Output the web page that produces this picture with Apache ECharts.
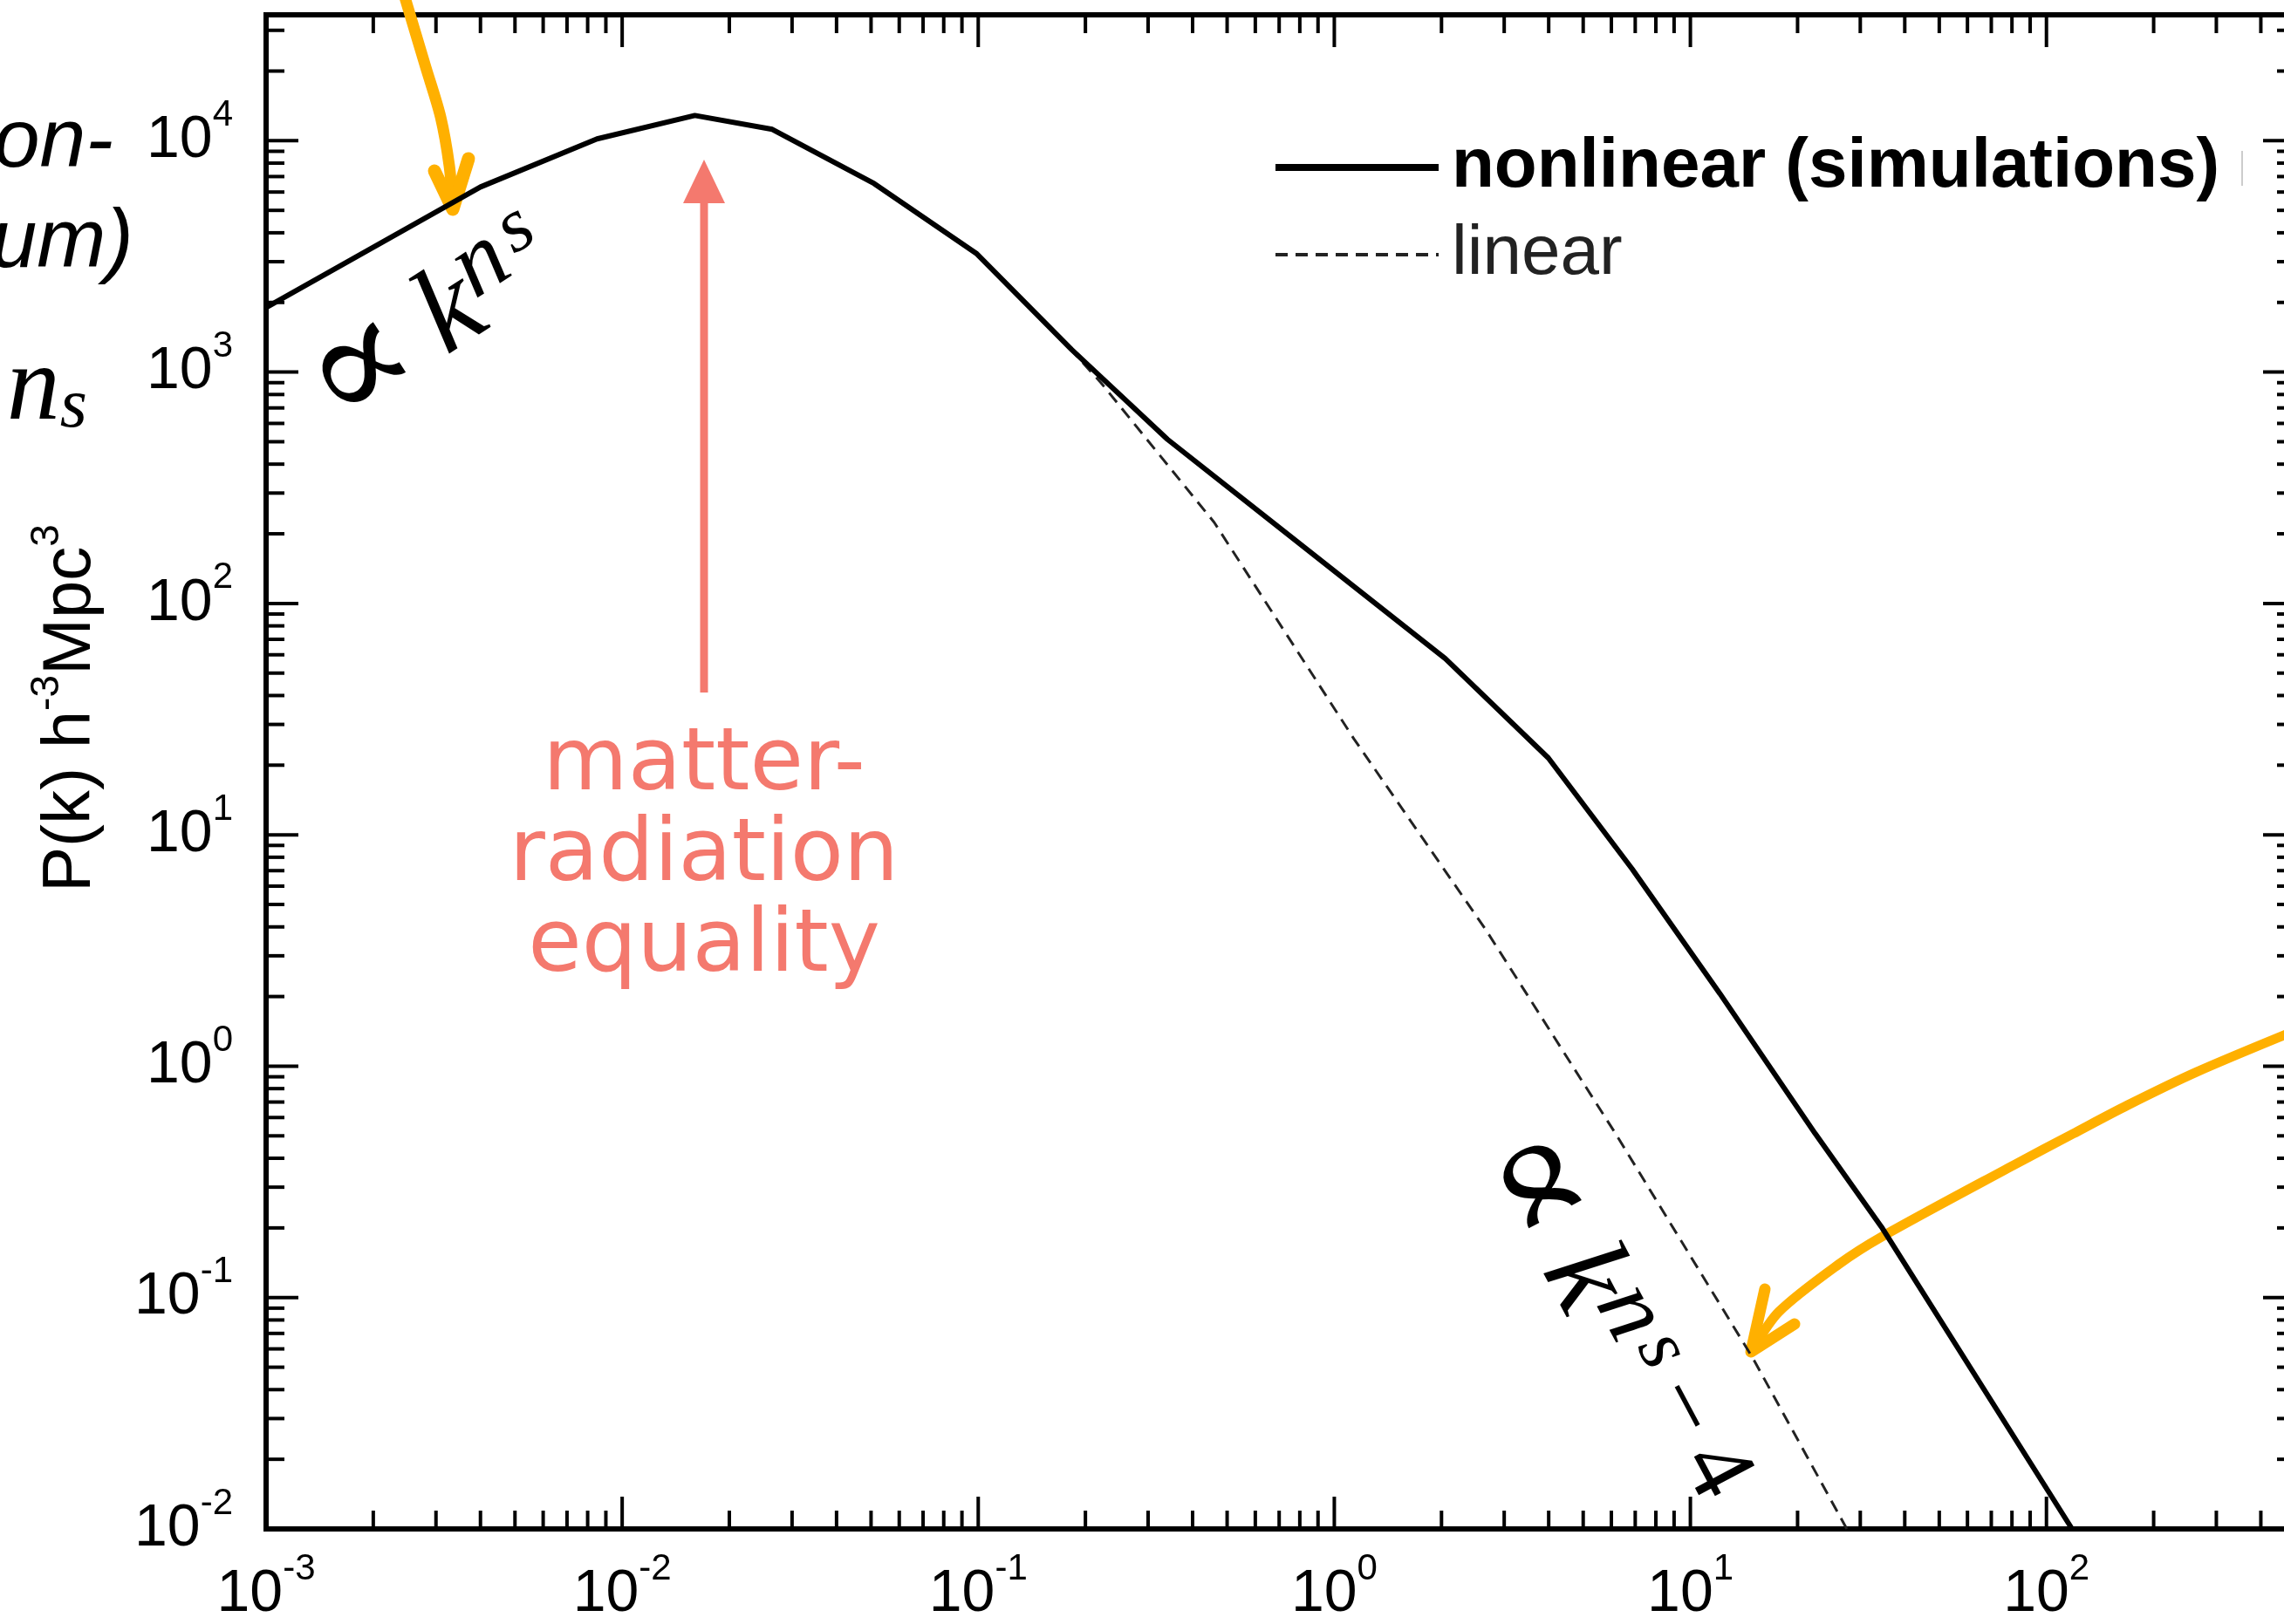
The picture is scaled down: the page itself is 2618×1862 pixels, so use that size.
<!DOCTYPE html>
<html>
<head>
<meta charset="utf-8">
<title>Matter power spectrum</title>
<script src="https://cdn.jsdelivr.net/npm/echarts@6/dist/echarts.min.js"></script>
<style>
  html, body { margin: 0; padding: 0; background: #fff; overflow: hidden; }
  #chart { width: 2640px; height: 1862px; }
</style>
</head>
<body>
<div id="chart"></div>
<script>
// k in h/Mpc, P(k) in h^-3 Mpc^3
const kNonlinear = [0.001, 0.004, 0.0085, 0.016, 0.0264, 0.051, 0.0987, 0.183, 0.34, 0.671, 2.05, 3.99, 6.86, 12.1, 22.4, 34.4, 118];
const pNonlinear = [1900, 6310, 10180, 12860, 11200, 6530, 3260, 1250, 512, 224, 57.8, 21.5, 7.12, 2.06, 0.512, 0.202, 0.01];

const kLinear = [0.001, 0.004, 0.0085, 0.016, 0.0264, 0.051, 0.0987, 0.16, 0.221, 0.46, 1.135, 2.66, 6.16, 15.0, 27.5];
const pLinear = [1900, 6310, 10180, 12860, 11200, 6530, 3260, 1560, 900, 224, 26, 3.9, 0.512, 0.0545, 0.01];

const legendNames = ['nonlinear (simulations)', 'linear'];

// axes
const kRange = [0.001, 500];
const pRange = [0.01, 35000];
const kDecades = [-3, -2, -1, 0, 1, 2];
const pDecades = [-2, -1, 0, 1, 2, 3, 4];
const minorSteps = [2, 3, 4, 5, 6, 7, 8, 9];

const SANS = '"Liberation Sans", Arial, Helvetica, sans-serif';
const SERIF = '"Liberation Serif", "DejaVu Serif", serif';
const PROP = '"Liberation Serif", "DejaVu Sans ExtraLight", "DejaVu Serif", serif';
const ORANGE = '#FFB000';
const SALMON = '#F4796E';

const chart = echarts.init(document.getElementById('chart'));

function tickList(decades, range) {
  const out = [];
  decades.forEach(e => {
    const base = Math.pow(10, e);
    out.push([base, 1]);
    minorSteps.forEach(m => {
      if (base * m <= range[1] * 1.0001) out.push([base * m, 0]);
    });
  });
  return out;
}

function powLabel(v) {
  const e = Math.round(Math.log10(v));
  if (Math.abs(Math.log10(v) - e) > 1e-6) return '';
  return '{b|10}{s|' + e + '}';
}

const labelRich = {
  b: { fontFamily: SANS, fontSize: 68, lineHeight: 100, color: '#000' },
  s: { fontFamily: SANS, fontSize: 42, lineHeight: 50, verticalAlign: 'top', color: '#000' }
};

// rich styles for the rotated slope formulas
const mathRich = {
  p: { fontFamily: PROP, fontSize: 180, lineHeight: 170, fill: '#000' },
  sp: { fontSize: 20, width: 30, lineHeight: 170 },
  k: { fontFamily: SERIF, fontStyle: 'italic', fontSize: 140, lineHeight: 170, fill: '#000' },
  n: { fontFamily: SERIF, fontStyle: 'italic', fontSize: 112, lineHeight: 66, verticalAlign: 'top', fill: '#000' },
  s: { fontFamily: SERIF, fontStyle: 'italic', fontSize: 88, lineHeight: 118, verticalAlign: 'top', padding: [0, 0, 0, 10], fill: '#000' },
  m: { fontFamily: SERIF, fontSize: 110, lineHeight: 66, verticalAlign: 'top', fill: '#000' }
};

function tickLine(x1, y1, x2, y2) {
  return { type: 'line', shape: { x1, y1, x2, y2 }, style: { stroke: '#000', lineWidth: 4 } };
}

const option = {
  animation: false,
  backgroundColor: '#fff',
  grid: {
    left: 305, right: 9, top: 17, bottom: 109,
    show: true, borderColor: '#000', borderWidth: 6, backgroundColor: 'transparent'
  },
  legend: {
    orient: 'vertical',
    left: 1453,
    top: 147,
    itemWidth: 187,
    itemHeight: 14,
    itemGap: 20,
    selectedMode: false,
    itemStyle: { opacity: 0 },
    textStyle: { fontFamily: SANS, fontSize: 80, lineHeight: 80, padding: [0, 0, 0, 10] },
    data: [
      { name: legendNames[0], lineStyle: { width: 8 }, textStyle: { fontWeight: 'bold', color: '#000' } },
      { name: legendNames[1], lineStyle: { width: 4 }, textStyle: { color: '#222' } }
    ]
  },
  xAxis: {
    type: 'log',
    logBase: 10,
    min: kRange[0],
    max: kRange[1],
    axisLine: { show: true, lineStyle: { color: '#000', width: 6 } },
    axisTick: { show: false },
    splitLine: { show: false },
    axisLabel: {
      margin: 25,
      showMinLabel: true,
      showMaxLabel: false,
      formatter: powLabel,
      rich: labelRich
    }
  },
  yAxis: {
    type: 'log',
    logBase: 10,
    min: pRange[0],
    max: pRange[1],
    name: '{a|P(k) h}{s|-3}{a|Mpc}{s|3}',
    nameLocation: 'middle',
    nameGap: 174,
    nameTextStyle: {
      padding: [0, 0, 0, 146],
      rich: {
        a: { fontFamily: SANS, fontSize: 78, lineHeight: 100, color: '#000' },
        s: { fontFamily: SANS, fontSize: 46, lineHeight: 52, verticalAlign: 'top', color: '#000' }
      }
    },
    axisLine: { show: true, lineStyle: { color: '#000', width: 6 } },
    axisTick: { show: false },
    splitLine: { show: false },
    axisLabel: {
      margin: 38,
      showMinLabel: true,
      showMaxLabel: false,
      formatter: powLabel,
      rich: labelRich
    }
  },
  series: [
    {
      name: legendNames[1],
      type: 'line',
      data: kLinear.map((k, i) => [k, pLinear[i]]),
      symbol: 'none',
      lineStyle: { color: '#222', width: 3, type: [14, 9] },
      itemStyle: { color: '#222' },
      z: 2
    },
    {
      name: legendNames[0],
      type: 'line',
      data: kNonlinear.map((k, i) => [k, pNonlinear[i]]),
      symbol: 'none',
      lineStyle: { color: '#000', width: 6 },
      itemStyle: { color: '#000' },
      z: 3
    },
    {
      // ticks on bottom and top edges
      type: 'custom',
      silent: true,
      encode: { x: 0, y: 1 },
      data: tickList(kDecades, kRange).map(t => [t[0], pRange[0], t[1]]),
      renderItem: function (params, api) {
        const v = api.value(0);
        const len = api.value(2) ? 37 : 21;
        const b = api.coord([v, pRange[0]]);
        const t = api.coord([v, pRange[1]]);
        return { type: 'group', children: [
          tickLine(b[0], b[1], b[0], b[1] - len),
          tickLine(t[0], t[1], t[0], t[1] + len)
        ] };
      },
      z: 4
    },
    {
      // ticks on left and right edges
      type: 'custom',
      silent: true,
      encode: { x: 0, y: 1 },
      data: tickList(pDecades, pRange).map(t => [kRange[0], t[0], t[1]]),
      renderItem: function (params, api) {
        const v = api.value(1);
        const len = api.value(2) ? 37 : 21;
        const l = api.coord([kRange[0], v]);
        const r = api.coord([kRange[1], v]);
        return { type: 'group', children: [
          tickLine(l[0], l[1], l[0] + len, l[1]),
          tickLine(r[0], r[1], r[0] - len, r[1])
        ] };
      },
      z: 4
    }
  ],
  graphic: [
    // cut-off slide text on the left
    { type: 'text', x: 130, y: 165, style: { text: 'on-', fontFamily: SANS, fontStyle: 'italic', fontSize: 95, fill: '#000', align: 'right', verticalAlign: 'middle' } },
    { type: 'text', x: 153, y: 280, style: { text: 'um)', fontFamily: SANS, fontStyle: 'italic', fontSize: 95, fill: '#000', align: 'right', verticalAlign: 'middle' } },
    { type: 'text', x: 100, y: 448, style: {
      text: '{n|n}{s|s}', align: 'right', verticalAlign: 'middle',
      rich: {
        n: { fontFamily: SERIF, fontStyle: 'italic', fontSize: 122, lineHeight: 120, fill: '#000' },
        s: { fontFamily: SERIF, fontStyle: 'italic', fontSize: 80, lineHeight: 90, verticalAlign: 'bottom', fill: '#000' }
      }
    } },
    // legend box remnant
    { type: 'line', shape: { x1: 2570, y1: 173, x2: 2570, y2: 213 }, style: { stroke: '#ccc', lineWidth: 2 } },
    // orange arrow, top left
    { type: 'polyline', shape: { points: [[462, -10], [488, 77], [505, 134], [515, 190], [519, 236]], smooth: 0.3 },
      style: { stroke: ORANGE, lineWidth: 13, lineCap: 'round', lineJoin: 'round', fill: null } },
    { type: 'polyline', shape: { points: [[498, 196], [519, 240], [537, 182]] },
      style: { stroke: ORANGE, lineWidth: 15, lineCap: 'round', lineJoin: 'round', fill: null } },
    // orange arrow, bottom right
    { type: 'polyline', shape: { points: [[2630, 1182], [2518, 1229], [2439, 1267], [2376, 1300], [2308, 1336], [2157, 1418], [2107, 1450], [2039, 1504], [2010, 1546]], smooth: 0.3 },
      style: { stroke: ORANGE, lineWidth: 11, lineCap: 'round', lineJoin: 'round', fill: null } },
    { type: 'polyline', shape: { points: [[2023, 1478], [2007, 1550], [2057, 1518]] },
      style: { stroke: ORANGE, lineWidth: 13, lineCap: 'round', lineJoin: 'round', fill: null } },
    // red arrow to the turnover
    { type: 'line', shape: { x1: 807, y1: 794, x2: 807, y2: 228 }, style: { stroke: SALMON, lineWidth: 9 } },
    { type: 'polygon', shape: { points: [[807, 183], [783, 233], [831, 233]] }, style: { fill: SALMON } },
    { type: 'text', x: 807, y: 983, style: {
      text: 'matter-\nradiation\nequality', fontFamily: '"DejaVu Sans", sans-serif', fontSize: 100, lineHeight: 104,
      fill: SALMON, align: 'center', verticalAlign: 'middle'
    } },
    // slope labels
    { type: 'text', x: 496, y: 374, rotation: 33 * Math.PI / 180, style: {
      text: '{p|∝}{sp| }{k|k}{n|n}{s|s}', align: 'center', verticalAlign: 'middle', rich: mathRich
    } },
    { type: 'text', x: 1840, y: 1515, rotation: -62 * Math.PI / 180, style: {
      text: '{p|∝}{sp| }{k|k}{n|n}{s|s}{m|\u2009−\u20094}', align: 'center', verticalAlign: 'middle', rich: mathRich
    } }
  ]
};

chart.setOption(option);
</script>
</body>
</html>
